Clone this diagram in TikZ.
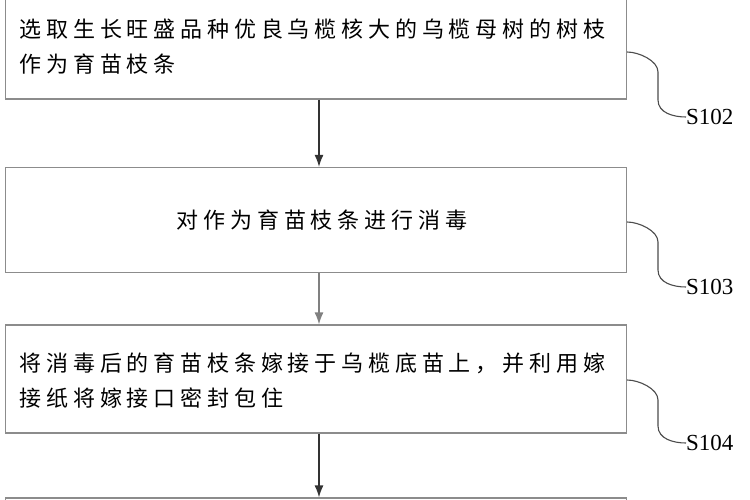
\documentclass[tikz,border=0pt]{standalone}
\usepackage{fontspec}
\setmainfont{Liberation Serif}
\newfontfamily\cjk[LetterSpace=22]{Noto Sans CJK SC}
\usetikzlibrary{arrows.meta}
\tikzset{
    stepbox/.style={draw=black!45,line width=1.2pt,minimum width=621pt,inner sep=0pt},
    steptext/.style={text width=610pt,align=left,font=\cjk\fontsize{22}{35}\selectfont},
    flow/.style={-{Latex[length=12pt,width=9pt]},line width=1.3pt,black!80},
    leader/.style={black!70,line width=1.1pt},
    steplabel/.style={anchor=west,inner sep=0pt,font=\fontsize{23}{23}\selectfont}
}
\begin{document}
\begin{tikzpicture}[x=1pt,y=-1pt]
    \useasboundingbox (0,0) rectangle (750,500);
    % Boxes
    \node[stepbox,minimum height=112pt] (b1) at (316,43) {};
    \node[stepbox,minimum height=105pt] (b2) at (316,220) {};
    \node[stepbox,minimum height=108pt] (b3) at (316,379) {};
    \node[stepbox,minimum height=40pt] (b4) at (316,518) {};
    % Texts
    \node[steptext,anchor=west] (t1) at (16,47) {选取生长旺盛品种优良乌榄核大的乌榄母树的树枝\\作为育苗枝条};
    \node[font=\cjk\fontsize{22}{22}\selectfont] (t2) at (322,220) {对作为育苗枝条进行消毒};
    \node[steptext,anchor=west] (t3) at (16,381) {将消毒后的育苗枝条嫁接于乌榄底苗上，并利用嫁\\接纸将嫁接口密封包住};
    % Arrows
    \draw[flow] (b1.south -| 319,0) -- (b2.north -| 319,0);
    \draw[flow,black!50] (b2.south -| 319,0) -- (b3.north -| 319,0);
    \draw[flow] (b3.south -| 319,0) -- (b4.north -| 319,0);
    % Step labels
    \node[steplabel] (s102) at (686,117) {S102};
    \node[steplabel] (s103) at (686,287) {S103};
    \node[steplabel] (s104) at (686,443) {S104};
    \draw[leader] (b1.east |- 0,52) to[out=0,in=90,looseness=0.8] (658,72) -- (658,100) to[out=-90,in=180] (s102.west);
    \draw[leader] (b2.east |- 0,222) to[out=0,in=90,looseness=0.8] (658,242) -- (658,270) to[out=-90,in=180] (s103.west);
    \draw[leader] (b3.east |- 0,380) to[out=0,in=90,looseness=0.8] (658,400) -- (658,426) to[out=-90,in=180] (s104.west);
\end{tikzpicture}
\end{document}
